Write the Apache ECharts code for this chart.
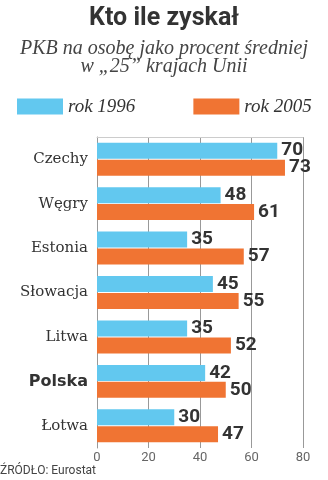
<!DOCTYPE html>
<html>
<head>
<meta charset="utf-8">
<script src="https://cdn.jsdelivr.net/npm/echarts@6/dist/echarts.min.js"></script>
<style>
  html, body { margin: 0; padding: 0; background: #fff; }
  #chart { width: 328px; height: 480px; }
</style>
</head>
<body>
<div id="chart"></div>
<script>
// GDP per capita as percent of the EU-25 average
const countries = ['Czechy', 'Węgry', 'Estonia', 'Słowacja', 'Litwa', 'Polska', 'Łotwa'];
const values1996 = [70, 48, 35, 45, 35, 42, 30];
const values2005 = [73, 61, 57, 55, 52, 50, 47];
const xTicks = [0, 20, 40, 60, 80];

const blue = '#62c8ef';
const orange = '#f07433';

const chart = echarts.init(document.getElementById('chart'));

const valueLabel = {
  show: true,
  position: 'right',
  distance: 4,
  color: '#333',
  fontFamily: 'Roboto',
  fontWeight: 'bold',
  fontSize: 19
};

chart.setOption({
  animation: false,
  title: [
    {
      text: 'Kto ile zyskał',
      left: 'center',
      top: 6,
      padding: 0,
      textStyle: { fontFamily: 'Roboto', fontWeight: 'bold', fontSize: 25, color: '#333' }
    },
    {
      text: 'PKB na osobę jako procent średniej\nw „25” krajach Unii',
      left: 'center',
      top: 40,
      padding: 0,
      textStyle: {
        fontFamily: 'Liberation Serif', fontStyle: 'italic', fontWeight: 'normal',
        fontSize: 20, lineHeight: 18, color: '#444'
      }
    },
    {
      text: 'ŹRÓDŁO: Eurostat',
      left: 0,
      top: 465,
      padding: 0,
      textStyle: { fontFamily: 'Roboto', fontWeight: 'normal', fontSize: 12, color: '#444' }
    }
  ],
  legend: {
    left: 17,
    top: 97,
    padding: 0,
    icon: 'rect',
    itemWidth: 46,
    itemHeight: 16,
    itemGap: 58,
    textStyle: {
      fontFamily: 'Liberation Serif', fontStyle: 'italic', fontSize: 19, color: '#333'
    }
  },
  grid: { left: 97, right: 25, top: 137, bottom: 32 },
  xAxis: [
    {
      type: 'value',
      min: xTicks[0],
      max: xTicks[xTicks.length - 1],
      interval: 20,
      axisLine: { show: false },
      axisTick: { show: false },
      splitLine: { show: true, lineStyle: { color: '#999', width: 1 } },
      axisLabel: { color: '#666', fontFamily: 'Roboto', fontSize: 13, margin: 3 }
    },
    {
      type: 'value',
      position: 'top',
      min: xTicks[0],
      max: xTicks[xTicks.length - 1],
      axisLine: { show: true, lineStyle: { color: '#ccc', width: 1 } },
      axisTick: { show: false },
      axisLabel: { show: false },
      splitLine: { show: false }
    }
  ],
  yAxis: {
    type: 'category',
    data: countries,
    inverse: true,
    axisLine: { show: true, lineStyle: { color: '#999', width: 1 } },
    axisTick: { show: false },
    axisLabel: {
      margin: 9,
      color: '#333',
      fontFamily: 'DejaVu Serif',
      fontSize: 15,
      formatter: function (v) {
        return v === 'Polska' ? '{b|' + v + '}' : v;
      },
      rich: {
        b: { fontFamily: 'DejaVu Sans', fontWeight: 'bold', fontSize: 16, color: '#333' }
      }
    }
  },
  series: [
    {
      name: 'rok 1996',
      type: 'bar',
      data: values1996,
      barWidth: 16,
      barGap: '6%',
      itemStyle: { color: blue },
      label: valueLabel
    },
    {
      name: 'rok 2005',
      type: 'bar',
      data: values2005,
      barWidth: 16,
      itemStyle: { color: orange },
      label: valueLabel
    }
  ]
});
</script>
</body>
</html>
